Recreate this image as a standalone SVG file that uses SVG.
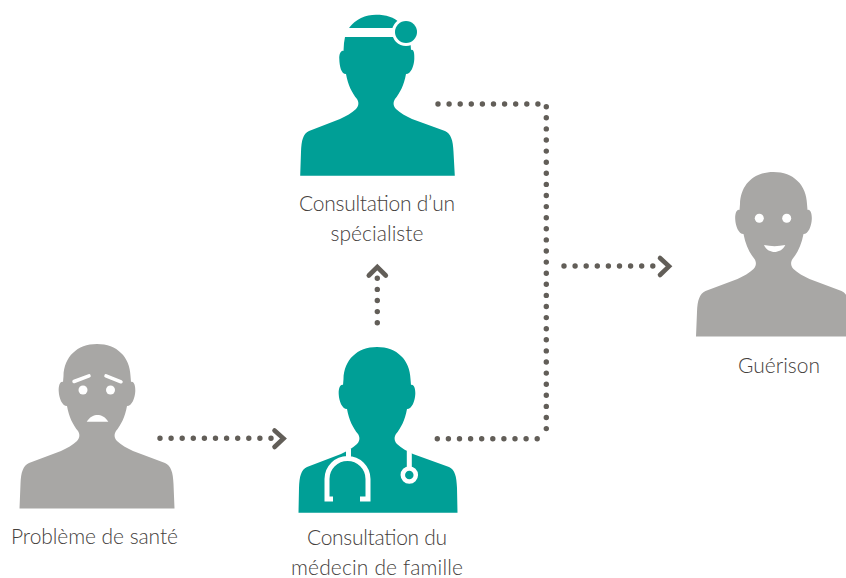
<svg xmlns="http://www.w3.org/2000/svg" width="846" height="578" viewBox="0 0 846 578">
<style>
.grey{fill:#a8a7a5}
.teal{fill:#009f96}
.w{fill:#fff}
.ws{fill:none;stroke:#fff;stroke-linecap:round}
.st{fill:none;stroke:#fff;stroke-width:5}
.dots{fill:none;stroke:#625e58;stroke-width:5.4;stroke-linecap:round;stroke-dasharray:0 11.1}
.head{fill:none;stroke:#625e58;stroke-width:4.6;stroke-linecap:round;stroke-linejoin:miter}
text{font-family:"Lato","Liberation Sans",sans-serif;font-weight:300;font-size:21px;fill:#45413d;text-anchor:middle}
</style>
<defs>
<path id="body" d="M0,0C20,0 33,13 33.5,32L34,38C37,37 38.5,42 38.3,47C38,54 35,62 30,62C28,73 24,81 19,87C17,90 17,94 20,97C24,101 30,104 36,107L68,119C74,122 76,128 76.5,140L77.5,164.5H-77.5L-76.5,140C-76,128 -74,122 -68,119L-36,107C-30,104 -24,101 -20,97C-17,94 -17,90 -19,87C-24,81 -28,73 -30,62C-35,62 -38,54 -38.3,47C-38.5,42 -37,37 -34,38L-33.5,32C-33,13 -20,0 0,0Z"/>
</defs>
<g id="connectors">
<path class="dots" d="M160,438.300H272"/>
<path class="head" d="M274.500,430.500L283.500,438.500L274.500,447"/>
<path class="dots" d="M377.300,322.700V278"/>
<path class="head" d="M368.800,275.500L377.300,267L385.800,275.500"/>
<path class="dots" d="M438,104H546.300V438.300"/>
<path class="dots" d="M437.300,438.800H546"/>
<path class="dots" d="M564,266H656"/>
<path class="head" d="M660,258L669,266.300L660,275"/>
</g>
<g id="probleme">
<use href="#body" class="grey" x="97" y="344"/>
<circle class="w" cx="83" cy="390" r="4.500"/>
<circle class="w" cx="110.500" cy="390" r="4.500"/>
<path class="ws" stroke-width="3.500" d="M74,381.500L89,375.800M106,375.800L121,381.800"/>
<path class="w" d="M86.700,421.700C90,416.500 94,415 97.500,415C101,415 105,416.500 108.300,421.700Z"/>
<text x="94.500" y="544" textLength="167">Problème de santé</text>
</g>
<g id="medecin">
<path class="teal" d="M377,347C397,347 410,360 410.500,379L411,385C414,384 415.500,389 415.300,394C415,401 412,409 407,409C405,420 401,428 396,434C394,437 394,441 397,444C401,448 407,451 413,454L449,467C455,470 456.500,476 457,488L457.500,512.700H298.500L299,488C299.500,476 301,470 307,467L341,454C347,451 353,448 357,444C360,441 360,437 358,434C353,428 349,420 347,409C342,409 339,401 338.700,394C338.500,389 340,384 343,385L343.500,379C344,360 357,347 377,347Z"/>
<path class="st" d="M348.500,449V459M333,499H327V479A20.500,20.500 0 0 1 368,479V499H360M409.300,451V467"/>
<circle cx="409.300" cy="475" r="6.500" fill="none" stroke="#fff" stroke-width="4.500"/>
<text x="377" y="545" textLength="140">Consultation du</text>
<text x="377" y="575" textLength="172">médecin de famille</text>
</g>
<g id="specialiste">
<path class="teal" d="M345,37H410L410.500,43L411,50C414,49 414.500,54 414.300,59C414,66 411,74 406,74C404,85 400,93 395,99C393,102 393,106 396,109C400,113 406,116 412,119L445,131C451,134 453,140 453.500,152L454.800,175.700H300.200L301,152C301.500,140 303,134 309,131L340,119C346,116 352,113 356,109C359,106 359,102 357,99C352,93 348,85 346,74C341,74 339.500,66 339.300,59C339,54 341,50 343.500,51L344,43Z"/>
<path class="teal" d="M349,28C355,19 366,14.700 376,14.700C386,14.700 394,17 400,23L396,28Z"/>
<circle class="w" cx="406" cy="32" r="14"/>
<circle class="teal" cx="406" cy="32" r="11"/>
<text x="377" y="211" textLength="156">Consultation d’un</text>
<text x="377" y="241" textLength="93">spécialiste</text>
</g>
<g id="guerison">
<use href="#body" class="grey" x="773.500" y="172"/>
<circle class="w" cx="759.300" cy="218.300" r="4.500"/>
<circle class="w" cx="786.700" cy="218.300" r="4.500"/>
<path class="w" d="M764,245C771,246.500 778,246.500 785.300,245C783,250 778,252 774.500,252C771,252 766,250 764,245Z"/>
<text x="779" y="373" textLength="82">Guérison</text>
</g>
</svg>
